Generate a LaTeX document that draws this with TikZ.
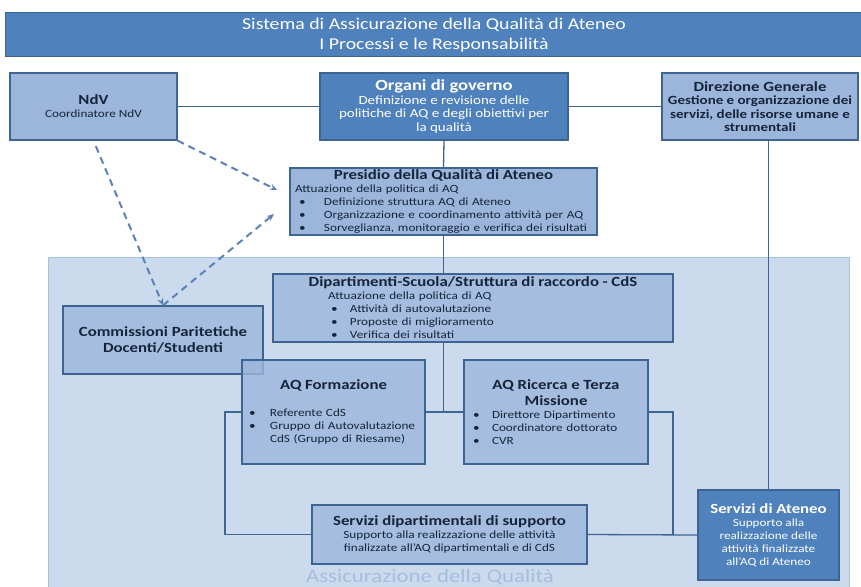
\documentclass[tikz,border=0pt]{standalone}
\usepackage{fontspec}
\setmainfont{Carlito}[FakeStretch=1.2]
\usetikzlibrary{arrows.meta}

\definecolor{bluscuro}{HTML}{4F81BD}
\definecolor{bordo}{HTML}{3E6494}
\definecolor{bluchiaro}{HTML}{9CB6DB}
\definecolor{fondo}{HTML}{CBDAED}
\definecolor{bordofondo}{HTML}{A9C0DD}
\definecolor{etichetta}{HTML}{A6BEDD}
\definecolor{lineablu}{HTML}{3F6592}
\definecolor{frecciablu}{HTML}{5B82B6}
\definecolor{testo}{HTML}{15243A}

\newcommand{\tit}{\fontsize{14}{16}\selectfont\bfseries}
\newcommand{\corpo}{\fontsize{11}{13}\selectfont}
\newcommand{\corpogr}{\fontsize{12.5}{13.5}\selectfont}
\newcommand{\voce}[2]{\hspace*{#1}\makebox[#2][l]{\textbullet}}

\begin{document}
\begin{tikzpicture}[x=1pt, y=-1pt, >={Stealth[length=7pt,width=6pt]},
	box/.style={draw=bordo, line width=1.3pt, inner xsep=5pt, inner ysep=1pt, font=\corpo, text=testo},
	scuro/.style={box, fill=bluscuro, text=white},
	chiaro/.style={box, fill=bluchiaro},
	interno/.style={box, fill=bluchiaro, fill opacity=0.8, text opacity=1},
	regione/.style={draw=bordofondo, line width=1pt, fill=fondo},
	linea/.style={draw=lineablu, line width=1.3pt},
	freccia/.style={->, draw=frecciablu, line width=2pt, dash pattern=on 7pt off 5pt}]
	\useasboundingbox (0,0) rectangle (861,586);
	
	% intestazione
	\node[box, fill=bluscuro, text=white, line width=1pt, minimum width=858pt, minimum height=44pt, font=\fontsize{16.5}{20}\selectfont, align=center] (titolo) at (434,35) {Sistema di Assicurazione della Qualità di Ateneo\\ I Processi e le Responsabilità};
	
	% area AQ
	\node[regione, minimum width=801pt, minimum height=335pt] (area) at (448.5,424.5) {};
	\node[font=\fontsize{19}{22}\selectfont, text=etichetta, anchor=base, inner sep=0pt] (etichetta) at (430,582) {Assicurazione della Qualità};
	
	% livello di governo
	\node[chiaro, minimum width=167pt, minimum height=67pt, align=center] (ndv) at (93.5,106.5) {{\tit NdV}\\ Coordinatore NdV};
	\node[scuro, minimum width=248pt, minimum height=67pt, align=center, font=\corpogr] (organi) at (444,106.5) {{\fontsize{15.5}{16}\selectfont\bfseries Organi di governo}\\ Definizione e revisione delle\\ politiche di AQ e degli obiettivi per\\ la qualità};
	\node[chiaro, minimum width=196pt, minimum height=67pt, align=center, font=\corpogr\bfseries] (dirgen) at (760,106.5) {{\tit Direzione Generale}\\ Gestione e organizzazione dei\\ servizi, delle risorse umane e\\ strumentali};
	
	\node[chiaro, minimum width=307pt, minimum height=67pt, text width=297pt, align=left] (presidio) at (443.5,201.5) {{\centering\tit Presidio della Qualità di Ateneo\par}Attuazione della politica di AQ\\ \voce{4pt}{25pt}Definizione struttura AQ di Ateneo\\ \voce{4pt}{25pt}Organizzazione e coordinamento attività per AQ\\ \voce{4pt}{25pt}Sorveglianza, monitoraggio e verifica dei risultati};
	
	% strutture dentro l'area AQ
	\node[interno, minimum width=400pt, minimum height=68pt, text width=390pt, align=left] (dip) at (473,308) {{\centering\tit Dipartimenti-Scuola/Struttura di raccordo - CdS\par}\hspace*{50pt}Attuazione della politica di AQ\\ \voce{53pt}{19pt}Attività di autovalutazione\\ \voce{53pt}{19pt}Proposte di miglioramento\\ \voce{53pt}{19pt}Verifica dei risultati};
	\node[interno, minimum width=200pt, minimum height=68pt, align=center, font=\tit] (commissioni) at (163,340) {Commissioni Paritetiche\\ Docenti/Studenti};
	\node[interno, minimum width=183pt, minimum height=104pt, text width=173pt, align=left] (formazione) at (333.5,412) {{\centering\tit AQ Formazione\par}\vspace{14pt}\voce{2pt}{21pt}Referente CdS\\ \voce{2pt}{21pt}Gruppo di Autovalutazione\\ \hspace*{23pt}CdS (Gruppo di Riesame)};
	\node[interno, minimum width=184pt, minimum height=104pt, text width=174pt, align=left] (ricerca) at (556,412) {{\centering\tit AQ Ricerca e Terza\\ Missione\par}\voce{4pt}{19pt}Direttore Dipartimento\\ \voce{4pt}{19pt}Coordinatore dottorato\\ \voce{4pt}{19pt}CVR};
	\node[interno, minimum width=275pt, minimum height=59pt, align=center] (servdip) at (449.5,534.5) {{\tit Servizi dipartimentali di supporto}\\ Supporto alla realizzazione delle attività\\ finalizzate all’AQ dipartimentali e di CdS};
	\node[scuro, minimum width=141pt, minimum height=90pt, align=center] (servat) at (768.5,535) {{\tit Servizi di Ateneo}\\ Supporto alla\\ realizzazione delle\\ attività finalizzate\\ all’AQ di Ateneo};
	
	% collegamenti
	\draw[linea] (ndv.east) -- (organi.west);
	\draw[linea] (organi.east) -- (dirgen.west);
	\draw[linea] (organi.south) -- (presidio.north);
	\draw[linea] (presidio.south) -- (presidio.south |- dip.north);
	\draw[linea] (dip.south -| presidio.south) -- (presidio.south |- formazione.east);
	\draw[linea] (formazione.east) -- (ricerca.west);
	\coordinate (sx) at (225,412);
	\coordinate (dx) at (673,412);
	\draw[linea] (formazione.west) -- (sx) |- (servdip.west);
	\draw[linea] (ricerca.east) -- (dx) -- (dx |- servat.west);
	\draw[linea] (servdip.east) -- (servat.west);
	\draw[linea] (dirgen.south -| servat.north) -- (servat.north);
	
	% frecce tratteggiate
	\coordinate (pa) at (277,190);
	\coordinate (pb) at (274,214);
	\draw[freccia] (ndv.south east) -- (pa);
	\draw[freccia, shorten <=6pt] (ndv.south) -- (commissioni.north);
	\draw[freccia] (commissioni.north) -- (pb);
\end{tikzpicture}
\end{document}
